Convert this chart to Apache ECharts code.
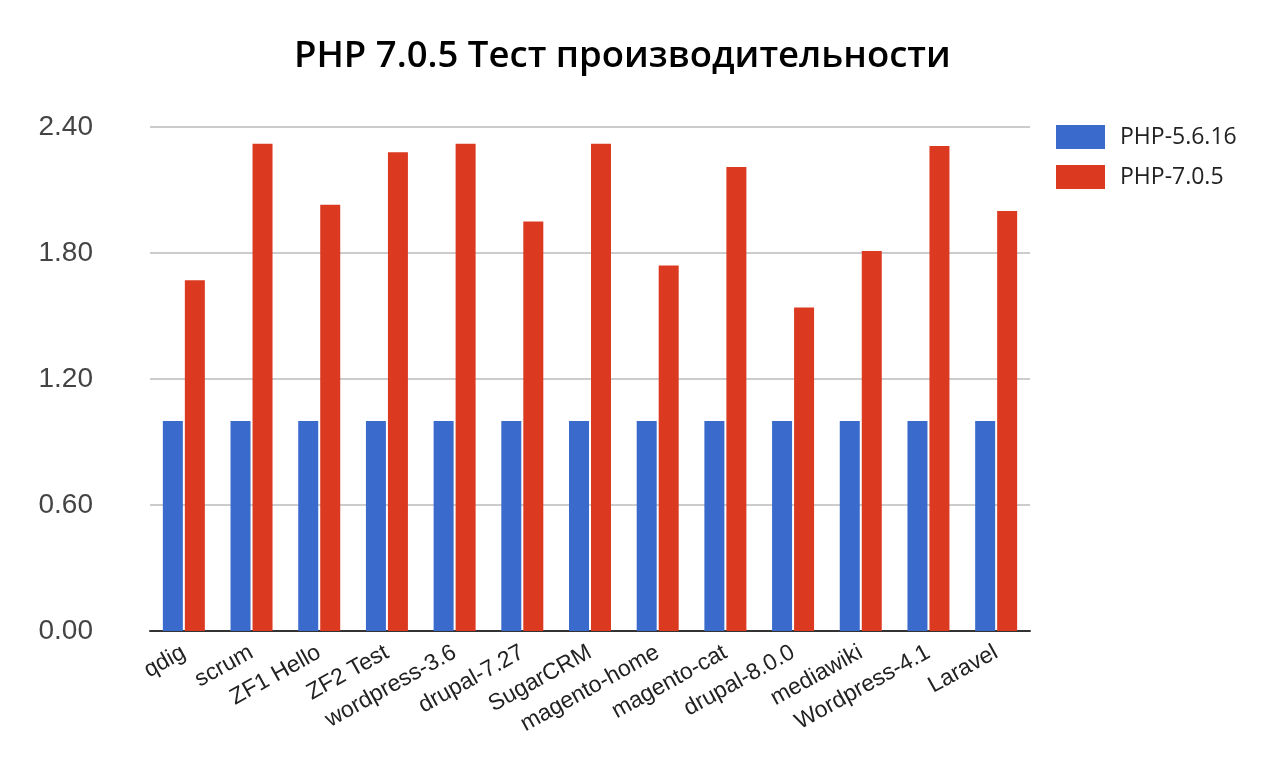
<!DOCTYPE html>
<html>
  <head>
    <meta charset="utf-8">
    <script src="https://cdn.jsdelivr.net/npm/echarts@6/dist/echarts.min.js"></script>
    <style>
      html, body { margin: 0; padding: 0; background: #fff; }
      #chart { width: 1280px; height: 759px; }
    </style>
  </head>
  <body>
    <div id="chart"></div>
    <script>
      // categories and values
      const categories = ['qdig', 'scrum', 'ZF1 Hello', 'ZF2 Test', 'wordpress-3.6', 'drupal-7.27',
        'SugarCRM', 'magento-home', 'magento-cat', 'drupal-8.0.0', 'mediawiki', 'Wordpress-4.1', 'Laravel'];
      const php56 = [1, 1, 1, 1, 1, 1, 1, 1, 1, 1, 1, 1, 1];
      const php70 = [1.67, 2.32, 2.03, 2.28, 2.32, 1.95, 2.32, 1.74, 2.21, 1.54, 1.81, 2.31, 2.00];
      const yTicks = [0, 0.6, 1.2, 1.8, 2.4];

      const chart = echarts.init(document.getElementById('chart'), null, { renderer: 'canvas' });
      chart.setOption({
        animation: false,
        title: {
          text: 'PHP 7.0.5 Тест производительности',
          left: 289,
          top: 33,
          textStyle: { fontFamily: 'Open Sans', fontWeight: 600, fontSize: 36.5, color: '#000' }
        },
        legend: {
          data: ['PHP-5.6.16', 'PHP-7.0.5'],
          orient: 'vertical',
          left: 1051,
          top: 120,
          itemWidth: 49,
          itemHeight: 24,
          itemGap: 16,
          icon: 'rect',
          textStyle: { fontFamily: 'Open Sans', fontSize: 23, color: '#222', padding: [0, 0, 0, 10] }
        },
        grid: { left: 150, top: 127, width: 880, height: 504, containLabel: false },
        xAxis: {
          type: 'category',
          data: categories,
          axisTick: { show: false },
          axisLine: { lineStyle: { color: '#333', width: 2 } },
          axisLabel: {
            rotate: 29,
            interval: 0,
            margin: 20,
            fontFamily: 'Liberation Sans',
            fontSize: 23,
            color: '#222'
          }
        },
        yAxis: {
          type: 'value',
          min: yTicks[0],
          max: yTicks[yTicks.length - 1],
          interval: 0.6,
          axisLine: { show: false },
          axisTick: { show: false },
          splitLine: { lineStyle: { color: '#cccccc', width: 2 } },
          axisLabel: {
            margin: 57,
            fontFamily: 'Liberation Sans',
            fontSize: 28,
            color: '#444',
            formatter: v => v.toFixed(2)
          }
        },
        series: [
          { name: 'PHP-5.6.16', type: 'bar', data: php56, barWidth: 20, barGap: '10%',
            itemStyle: { color: '#3a6bcc' } },
          { name: 'PHP-7.0.5', type: 'bar', data: php70, barWidth: 20, barGap: '10%',
            itemStyle: { color: '#db3a21' } }
        ]
      });
    </script>
  </body>
</html>
